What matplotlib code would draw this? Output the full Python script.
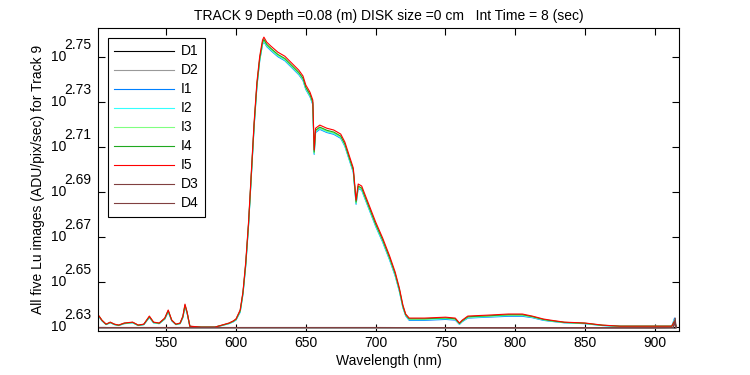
import numpy as np
import matplotlib
matplotlib.use("Agg")
import matplotlib.pyplot as plt
from matplotlib.transforms import blended_transform_factory

plt.rcParams['font.family'] = ['Liberation Sans', 'DejaVu Sans']

# wavelength grid (nm)
wl = [502, 504, 507, 510, 513, 516, 520, 526, 530, 534, 538, 541, 545, 549, 551.5, 554, 557, 560, 562,
      563.5, 565, 567, 575, 585, 590, 595, 598, 600, 603, 605, 607, 609, 611, 613, 615, 617, 619, 620,
      622, 625, 630, 635, 640, 645, 648, 650, 653, 655, 656, 657, 660, 665, 670, 675, 678, 681, 684,
      686, 687.5, 690, 695, 700, 705, 710, 714, 717, 719.5, 721.5, 724, 735, 750, 757, 760, 762, 766,
      780, 795, 805, 812, 820, 825, 835, 850, 862, 875, 900, 912, 914, 915]

# log10 of signal (exponent of 10)
I5 = [2.6349, 2.6331, 2.6313, 2.6322, 2.6313, 2.6309, 2.6318, 2.6322, 2.6309, 2.6313, 2.6349, 2.6322, 2.6318,
      2.6340, 2.6376, 2.6331, 2.6313, 2.6318, 2.6349, 2.6402, 2.6367, 2.6304, 2.6300, 2.6300, 2.6309, 2.6318,
      2.6327, 2.6336, 2.6376, 2.6456, 2.6589, 2.6767, 2.6989, 2.7211, 2.7389, 2.7504, 2.7576, 2.7589, 2.7567,
      2.7549, 2.7522, 2.7504, 2.7473, 2.7442, 2.7416, 2.7376, 2.7344, 2.7309, 2.7087, 2.7184, 2.7198, 2.7184,
      2.7176, 2.7158, 2.7122, 2.7064, 2.7007, 2.6864, 2.6936, 2.6927, 2.6847, 2.6767, 2.6696, 2.6616, 2.6544,
      2.6473, 2.6398, 2.6358, 2.6340, 2.6340, 2.6344, 2.6340, 2.6318, 2.6331, 2.6349, 2.6353, 2.6358, 2.6358,
      2.6349, 2.6336, 2.6331, 2.6322, 2.6318, 2.6309, 2.6304, 2.6304, 2.6304, 2.6327, 2.6304]
I4 = [2.6348, 2.6330, 2.6312, 2.6321, 2.6312, 2.6308, 2.6317, 2.6321, 2.6308, 2.6312, 2.6346, 2.6321, 2.6317,
      2.6338, 2.6373, 2.6330, 2.6312, 2.6317, 2.6346, 2.6398, 2.6365, 2.6303, 2.6300, 2.6300, 2.6308, 2.6317,
      2.6326, 2.6334, 2.6372, 2.6452, 2.6582, 2.6759, 2.6980, 2.7201, 2.7379, 2.7494, 2.7566, 2.7579, 2.7557,
      2.7539, 2.7512, 2.7494, 2.7463, 2.7432, 2.7406, 2.7366, 2.7334, 2.7299, 2.7078, 2.7175, 2.7189, 2.7175,
      2.7167, 2.7149, 2.7113, 2.7055, 2.6998, 2.6856, 2.6927, 2.6918, 2.6838, 2.6758, 2.6688, 2.6608, 2.6537,
      2.6467, 2.6393, 2.6355, 2.6337, 2.6337, 2.6341, 2.6337, 2.6316, 2.6328, 2.6346, 2.6350, 2.6355, 2.6355,
      2.6347, 2.6334, 2.6329, 2.6321, 2.6317, 2.6308, 2.6304, 2.6304, 2.6304, 2.6326, 2.6304]
I3 = [2.6347, 2.6330, 2.6312, 2.6320, 2.6312, 2.6308, 2.6316, 2.6320, 2.6308, 2.6312, 2.6345, 2.6320, 2.6316,
      2.6337, 2.6371, 2.6330, 2.6312, 2.6316, 2.6345, 2.6396, 2.6364, 2.6303, 2.6300, 2.6300, 2.6308, 2.6316,
      2.6325, 2.6333, 2.6370, 2.6449, 2.6579, 2.6756, 2.6976, 2.7197, 2.7375, 2.7490, 2.7562, 2.7575, 2.7553,
      2.7535, 2.7508, 2.7490, 2.7459, 2.7428, 2.7402, 2.7362, 2.7330, 2.7295, 2.7074, 2.7171, 2.7185, 2.7171,
      2.7163, 2.7145, 2.7109, 2.7051, 2.6994, 2.6852, 2.6923, 2.6914, 2.6834, 2.6754, 2.6684, 2.6604, 2.6533,
      2.6463, 2.6390, 2.6353, 2.6335, 2.6335, 2.6339, 2.6335, 2.6315, 2.6327, 2.6344, 2.6348, 2.6353, 2.6353,
      2.6345, 2.6333, 2.6328, 2.6320, 2.6316, 2.6308, 2.6304, 2.6304, 2.6304, 2.6330, 2.6304]
I2 = [2.6346, 2.6329, 2.6311, 2.6320, 2.6311, 2.6307, 2.6316, 2.6319, 2.6307, 2.6311, 2.6344, 2.6319, 2.6316,
      2.6336, 2.6369, 2.6329, 2.6311, 2.6316, 2.6344, 2.6394, 2.6363, 2.6303, 2.6300, 2.6300, 2.6307, 2.6316,
      2.6324, 2.6332, 2.6368, 2.6447, 2.6576, 2.6753, 2.6973, 2.7194, 2.7372, 2.7487, 2.7559, 2.7572, 2.7550,
      2.7532, 2.7505, 2.7487, 2.7456, 2.7425, 2.7399, 2.7359, 2.7327, 2.7292, 2.7071, 2.7168, 2.7182, 2.7168,
      2.7160, 2.7142, 2.7106, 2.7048, 2.6991, 2.6849, 2.6920, 2.6911, 2.6831, 2.6751, 2.6681, 2.6601, 2.6530,
      2.6461, 2.6388, 2.6352, 2.6333, 2.6333, 2.6337, 2.6334, 2.6313, 2.6326, 2.6342, 2.6346, 2.6351, 2.6351,
      2.6344, 2.6332, 2.6327, 2.6320, 2.6316, 2.6307, 2.6303, 2.6303, 2.6303, 2.6335, 2.6303]
I1 = [2.6345, 2.6328, 2.6311, 2.6319, 2.6311, 2.6307, 2.6315, 2.6319, 2.6307, 2.6311, 2.6342, 2.6319, 2.6315,
      2.6335, 2.6367, 2.6328, 2.6311, 2.6315, 2.6342, 2.6391, 2.6362, 2.6303, 2.6300, 2.6300, 2.6307, 2.6315,
      2.6323, 2.6331, 2.6366, 2.6445, 2.6573, 2.6750, 2.6970, 2.7191, 2.7369, 2.7484, 2.7556, 2.7569, 2.7547,
      2.7529, 2.7502, 2.7484, 2.7453, 2.7422, 2.7396, 2.7356, 2.7324, 2.7289, 2.7068, 2.7165, 2.7179, 2.7165,
      2.7157, 2.7139, 2.7103, 2.7045, 2.6988, 2.6846, 2.6917, 2.6908, 2.6828, 2.6748, 2.6678, 2.6598, 2.6527,
      2.6458, 2.6386, 2.6350, 2.6330, 2.6330, 2.6334, 2.6331, 2.6312, 2.6324, 2.6340, 2.6344, 2.6348, 2.6348,
      2.6342, 2.6330, 2.6326, 2.6319, 2.6315, 2.6307, 2.6303, 2.6303, 2.6303, 2.6340, 2.6303]

# dark frames
wl_dark = [502, 600, 700, 800, 900, 913, 914.5, 915]
D1 = [2.6296, 2.6296, 2.6296, 2.6295, 2.6295, 2.6296, 2.6296, 2.6296]
D2 = [2.6294, 2.6294, 2.6294, 2.6294, 2.6294, 2.6295, 2.6330, 2.6296]
D3 = [2.6298, 2.6298, 2.6298, 2.6297, 2.6297, 2.6298, 2.6340, 2.6298]
D4 = [2.6298, 2.6298, 2.6298, 2.6297, 2.6297, 2.6298, 2.6320, 2.6298]

series = [
    ("D1", wl_dark, D1, "#000000"),
    ("D2", wl_dark, D2, "#999999"),
    ("I1", wl, I1, "#0080ff"),
    ("I2", wl, I2, "#33ffff"),
    ("I3", wl, I3, "#80ff80"),
    ("I4", wl, I4, "#20a820"),
    ("I5", wl, I5, "#ff0000"),
    ("D3", wl_dark, D3, "#804040"),
    ("D4", wl_dark, D4, "#804040"),
]

yexp = [2.63, 2.65, 2.67, 2.69, 2.71, 2.73, 2.75]
xticks = [550, 600, 650, 700, 750, 800, 850, 900]

fig = plt.figure(figsize=(7.5, 3.75), dpi=100)
ax = fig.add_axes([0.131, 0.117, 0.774, 0.808])

for name, x, y, c in series:
    ax.plot(x, np.power(10.0, y), color=c, lw=0.8, label=name)

ax.set_yscale('log')
ax.set_xlim(501.4, 917)
ax.set_ylim(10 ** 2.6282, 10 ** 2.7629)
ax.set_xticks(xticks)
ax.set_xticklabels([str(v) for v in xticks])
ax.set_yticks([10 ** e for e in yexp])
ax.set_yticklabels([''] * len(yexp))
ax.yaxis.set_minor_locator(matplotlib.ticker.NullLocator())

ax.tick_params(direction='in', length=5, width=0.8, top=True, right=True, labelsize=10, colors='black')
for s in ax.spines.values():
    s.set_linewidth(0.8)

trans = blended_transform_factory(ax.transAxes, ax.transData)
for e in yexp:
    ax.annotate('10', xy=(0, 10 ** e), xycoords=trans, xytext=(-23, 0), textcoords='offset points',
                ha='right', va='center', fontsize=10)
    ax.annotate('%.2f' % e, xy=(0, 10 ** e), xycoords=trans, xytext=(-5, 8.5), textcoords='offset points',
                ha='right', va='center', fontsize=10)

ax.set_xlabel('Wavelength (nm)', fontsize=10, labelpad=3)
ax.set_ylabel('All five Lu images (ADU/pix/sec) for Track 9', fontsize=10, labelpad=35)
ax.set_title('TRACK 9 Depth =0.08 (m) DISK size =0 cm   Int Time = 8 (sec)', fontsize=10, pad=6)

leg = ax.legend(loc='upper left', bbox_to_anchor=(10 / 581, 1 - 10 / 303), fontsize=10,
                frameon=True, fancybox=False, framealpha=1, edgecolor='black',
                handlelength=4.3, handletextpad=0.5, labelspacing=0.36, borderpad=0.45,
                borderaxespad=0)
leg.get_frame().set_linewidth(0.8)

fig.savefig('out.png', dpi=100, facecolor='white')
